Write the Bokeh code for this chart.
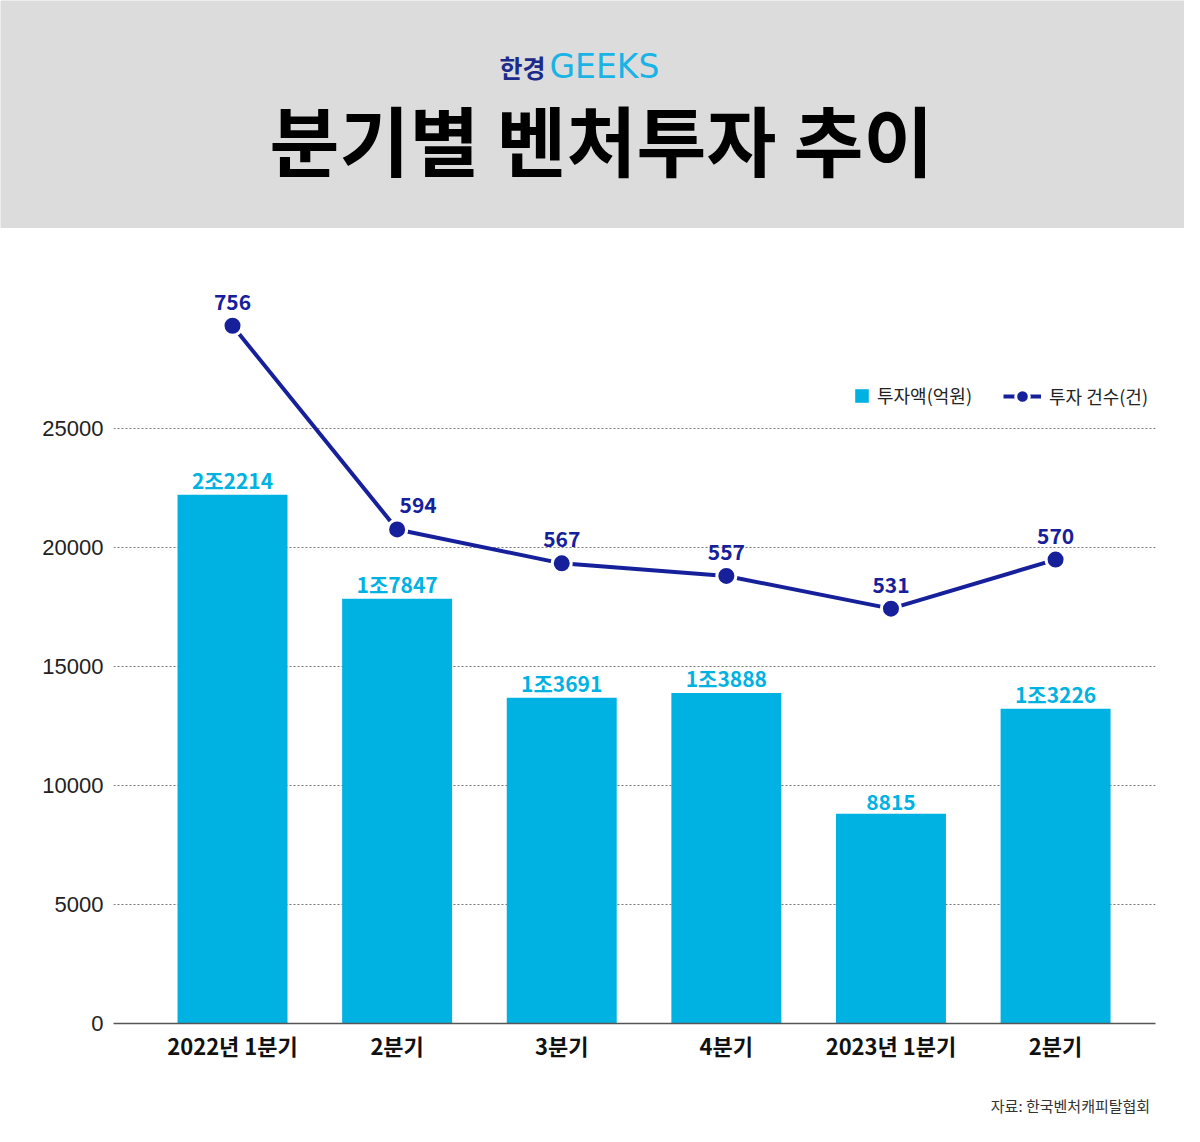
from bokeh.plotting import figure
from bokeh.models import Range1d, Legend, LegendItem, FixedTicker, ColumnDataSource
from bokeh.layouts import column
from bokeh.embed import file_html
from bokeh.resources import INLINE
from bokeh.core.properties import value

# ---------------- data ----------------
quarters = ["2022년 1분기", "2분기", "3분기", "4분기", "2023년 1분기", "2분기"]
amounts = [22214, 17847, 13691, 13888, 8815, 13226]   # 투자액(억원)
counts = [756, 594, 567, 557, 531, 570]               # 투자 건수(건)
y_ticks = [0, 5000, 10000, 15000, 20000, 25000]

title_text = "분기별 벤처투자 추이"
source_text = "자료:  한국벤처캐피탈협회"

BAR = "#00b2e2"
NAVY = "#16209a"
FONT = "Noto Sans CJK KR"

def fmt_amount(v):
    if v >= 10000:
        return f"{v // 10000}조{v % 10000}"
    return str(v)

idx = list(range(len(quarters)))
amt_lbl = [fmt_amount(v) for v in amounts]
# label nudges (layout only): digit-only labels sit a bit higher; the 2nd count label is moved off the line
amt_dy = [0 if "조" in s else -4 for s in amt_lbl]
cnt_dx = [21 if i == 1 else 0 for i in idx]

src = ColumnDataSource(dict(
    x=idx, amt=amounts, cnt=counts,
    amt_lbl=amt_lbl, amt_dy=amt_dy,
    cnt_lbl=[str(v) for v in counts], cnt_dx=cnt_dx,
))

W = 1184
HEAD_H = 228
FOOT_H = 43
CHART_H = 1126 - HEAD_H - FOOT_H

def blank(height, bg):
    f = figure(width=W, height=height, x_range=Range1d(0, W), y_range=Range1d(0, height),
               output_backend="svg", toolbar_location=None, min_border=0)
    f.frame_align = False
    f.axis.visible = False
    f.grid.visible = False
    f.outline_line_color = None
    f.background_fill_color = bg
    f.border_fill_color = bg
    return f

# ---------------- header ----------------
h = blank(HEAD_H, "#dcdcdc")
h.text(x=[545], y=[HEAD_H - 66], text=["한경"], text_align="right", text_baseline="middle",
       text_font=value(FONT), text_font_style="bold", text_font_size="25px", text_color="#1c2a8c")
h.text(x=[549], y=[HEAD_H - 66], text=["GEEKS"], text_align="left", text_baseline="middle",
       text_font=value("DejaVu Sans"), text_font_size="33px", text_color="#19b3e6")
h.text(x=[601], y=[HEAD_H - 137], text=[title_text], text_align="center", text_baseline="middle",
       text_font=value(FONT), text_font_style="bold", text_font_size="76px", text_color="#000000")

# ---------------- chart ----------------
FRAME_TOP = 280 - HEAD_H
FRAME_BOTTOM = 1023 - HEAD_H
p = figure(width=W, height=CHART_H, output_backend="svg", toolbar_location=None,
           x_range=Range1d(-0.723, 5.607), y_range=Range1d(0, 31218),
           min_border_left=113, min_border_right=W - 1155, min_border_top=FRAME_TOP,
           min_border_bottom=CHART_H - FRAME_BOTTOM)
p.frame_align = False
p.extra_y_ranges = {"cnt": Range1d(201, 792)}
p.outline_line_color = None
p.background_fill_color = "white"
p.border_fill_color = "white"

bars = p.vbar(x="x", top="amt", width=0.668, source=src, fill_color=BAR, line_color=None)
p.text(x="x", y="amt", text="amt_lbl", source=src, text_align="center", text_baseline="bottom",
       y_offset="amt_dy", text_font=value(FONT), text_font_style="bold", text_font_size="21px",
       text_color=BAR)

ln = p.line(x="x", y="cnt", source=src, y_range_name="cnt", line_color=NAVY, line_width=4)
pts = p.scatter(x="x", y="cnt", source=src, y_range_name="cnt", size=19, fill_color=NAVY,
                line_color="white", line_width=3)
p.text(x="x", y="cnt", text="cnt_lbl", source=src, y_range_name="cnt", text_align="center",
       text_baseline="bottom", x_offset="cnt_dx", y_offset=-16, text_font=value(FONT),
       text_font_style="bold", text_font_size="21px", text_color=NAVY)

# axes
p.yaxis.ticker = FixedTicker(ticks=y_ticks)
p.yaxis.axis_line_color = None
p.yaxis.major_tick_line_color = None
p.yaxis.minor_tick_line_color = None
p.yaxis.major_label_standoff = 4
p.yaxis.major_label_text_font = "Liberation Sans"
p.yaxis.major_label_text_font_size = "22px"
p.yaxis.major_label_text_color = "#222222"

p.xaxis.ticker = FixedTicker(ticks=idx)
p.xaxis.major_label_overrides = {i: q for i, q in enumerate(quarters)}
p.xaxis.axis_line_color = "#555555"
p.xaxis.axis_line_width = 1.5
p.xaxis.major_tick_line_color = None
p.xaxis.minor_tick_line_color = None
p.xaxis.major_label_standoff = -1
p.xaxis.major_label_text_font = FONT
p.xaxis.major_label_text_font_style = "bold"
p.xaxis.major_label_text_font_size = "22px"
p.xaxis.major_label_text_color = "#111111"

p.xgrid.visible = False
p.ygrid.grid_line_color = "#777777"
p.ygrid.grid_line_dash = "2 2"
p.ygrid.grid_line_width = 1

# legends
leg1 = Legend(items=[LegendItem(label="투자액(억원)", renderers=[bars])],
              location=(740, 615), orientation="horizontal", glyph_width=17, glyph_height=17,
              label_height=18, padding=0, spacing=0, margin=0, label_standoff=7,
              border_line_color=None, background_fill_alpha=0,
              label_text_font=FONT, label_text_font_size="18px", label_text_color="#222222")
leg2 = Legend(items=[LegendItem(label="투자 건수(건)", renderers=[ln, pts])],
              location=(890, 610), orientation="horizontal", glyph_width=38, glyph_height=34,
              label_height=18, padding=0, spacing=0, margin=0, label_standoff=8,
              border_line_color=None, background_fill_alpha=0,
              label_text_font=FONT, label_text_font_size="18px", label_text_color="#222222")
p.add_layout(leg1)
p.add_layout(leg2)

# ---------------- footer ----------------
f = blank(FOOT_H, "white")
f.text(x=[1153], y=[FOOT_H - (1105 - (1126 - FOOT_H))], text=[source_text], text_align="right",
       text_baseline="middle", text_font=value(FONT), text_font_size="15px", text_color="#333333")

layout = column(h, p, f, spacing=0)
open("out.html", "w").write(file_html(layout, INLINE))
